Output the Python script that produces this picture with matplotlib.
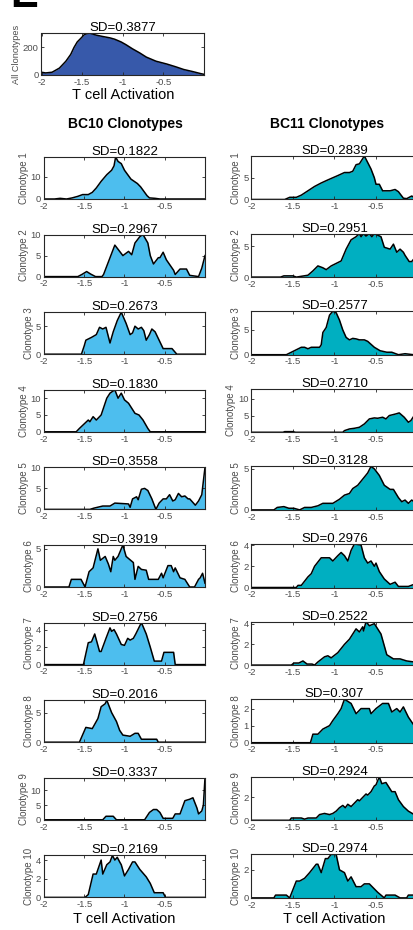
import matplotlib.pyplot as plt

plt.rcParams['font.family'] = ['Liberation Sans', 'DejaVu Sans']
plt.rcParams['axes.unicode_minus'] = False

W, H = 414, 930

# pooled distribution of all clonotypes
all_x = [-2, -1.95, -1.87, -1.78, -1.7, -1.64, -1.6, -1.56, -1.51, -1.47,
         -1.41, -1.33, -1.25, -1.16, -1.1, -1.02, -0.96, -0.88, -0.79, -0.71,
         -0.59, -0.46, -0.35, -0.25, -0.14, -0.04, 0]
all_y = [20, 15, 20, 50, 100, 150, 200, 240, 270, 295,
         305, 290, 280, 270, 260, 240, 220, 190, 160, 130,
         100, 80, 60, 40, 25, 10, 5]
all_sd = '0.3877'

bc10_sd = ['0.1822', '0.2967', '0.2673', '0.1830', '0.3558',
           '0.3919', '0.2756', '0.2016', '0.3337', '0.2169']
bc11_sd = ['0.2839', '0.2951', '0.2577', '0.2710', '0.3128',
           '0.2976', '0.2522', '0.307', '0.2924', '0.2974']

bc10_x = [
    [-2, -1.87, -1.8, -1.72, -1.65, -1.58, -1.52, -1.45, -1.40, -1.35, -1.29, -1.22, -1.16, -1.13, -1.11,
     -1.08, -1.04, -1.0, -0.96, -0.92, -0.88, -0.84, -0.8, -0.76, -0.72, -0.69, -0.62, -0.56, 0],
    [-2, -1.58, -1.53, -1.47, -1.42, -1.36, -1.28, -1.26, -1.12, -1.08, -1.02, -0.95, -0.91, -0.87, -0.81,
     -0.77, -0.71, -0.68, -0.64, -0.58, -0.56, -0.52, -0.48, -0.39, -0.37, -0.31, -0.23, -0.19, -0.08, -0.04, 0],
    [-2, -1.535, -1.5, -1.48, -1.41, -1.35, -1.31, -1.27, -1.23, -1.18, -1.14, -1.09, -1.04, -0.98, -0.93,
     -0.9, -0.87, -0.83, -0.79, -0.76, -0.73, -0.69, -0.66, -0.62, -0.57, -0.52, -0.41, -0.35, 0],
    [-2, -1.6, -1.56, -1.45, -1.43, -1.39, -1.35, -1.29, -1.22, -1.18, -1.12, -1.08, -1.04, -1.0, -0.95,
     -0.91, -0.87, -0.82, -0.77, -0.71, -0.68, 0],
    [-2, -1.43, -1.38, -1.27, -1.18, -1.12, -0.95, -0.93, -0.9, -0.85, -0.83, -0.79, -0.75, -0.71, -0.66,
     -0.61, -0.57, -0.52, -0.48, -0.44, -0.4, -0.37, -0.33, -0.29, -0.25, -0.21, -0.19, -0.12, -0.08, -0.04, 0],
    [-2, -1.69, -1.66, -1.54, -1.49, -1.44, -1.39, -1.33, -1.3, -1.24, -1.2, -1.17, -1.14, -1.12, -1.08,
     -1.06, -1.02, -0.98, -0.89, -0.87, -0.83, -0.79, -0.73, -0.7, -0.58, -0.54, -0.52, -0.46, -0.42, -0.39,
     -0.37, -0.31, -0.25, -0.19, -0.13, -0.08, -0.06, -0.03, 0],
    [-2, -1.51, -1.45, -1.41, -1.37, -1.31, -1.29, -1.23, -1.18, -1.16, -1.13, -1.1, -1.04, -1.0, -0.96,
     -0.93, -0.89, -0.86, -0.79, -0.73, -0.68, -0.63, -0.54, -0.51, -0.39, -0.37, 0],
    [-2, -1.56, -1.48, -1.4, -1.33, -1.29, -1.24, -1.22, -1.16, -1.12, -1.1, -1.06, -1.02, -0.93, -0.87,
     -0.83, -0.79, -0.6, -0.58, 0],
    [-2, -1.27, -1.23, -1.14, -1.1, -0.75, -0.69, -0.64, -0.6, -0.56, -0.52, -0.4, -0.37, -0.31, -0.25,
     -0.19, -0.15, -0.1, -0.08, -0.04, -0.02, 0],
    [-2, -1.49, -1.45, -1.39, -1.35, -1.31, -1.29, -1.27, -1.22, -1.18, -1.15, -1.12, -1.09, -1.06, -1.04,
     -1.0, -0.95, -0.9, -0.87, -0.81, -0.78, -0.73, -0.68, -0.63, -0.52, -0.49, 0],
]
bc10_y = [
    [0, 0, 0.3, 0, 0.5, 1.2, 2, 2, 3, 5, 8, 11, 13, 15, 19, 17, 16, 13, 11, 9, 8, 7, 5.5, 3.5, 1.5, 0.5, 0.3, 0, 0],
    [0, 0, 0.5, 1.2, 0.6, 0, 0, 0.5, 7.5, 6.5, 5, 6, 5.2, 8, 9.5, 10, 8, 5, 3, 4.5, 4.5, 5.8, 4, 1.5, 0.5,
     1.8, 1.8, 0.3, 0, 2, 5],
    [0, 0, 1.5, 2.5, 3, 3.5, 4.8, 4.5, 4.8, 2, 4, 6, 7.5, 5.5, 3.5, 3.8, 5, 4.5, 4.8, 4.2, 2.5, 3.5, 4.5, 4,
     2.5, 1, 1, 0, 0],
    [0, 0, 1, 3.5, 3, 4.5, 3.5, 5, 10, 11.5, 12.5, 10, 11.5, 9.5, 8.5, 7, 5.5, 5, 3.5, 1, 0, 0],
    [0, 0, 0.3, 0.8, 0.8, 1.5, 1.3, 0.5, 2.5, 3, 2.3, 4.8, 5, 4.5, 2.5, 0, 1.5, 2.5, 2.5, 3.5, 2, 2.3, 3.8,
     3, 3.2, 2.5, 2.5, 1, 2, 3.5, 10],
    [0, 0, 1, 1, 0, 2, 2.5, 5, 3.5, 4, 3, 2, 4, 3.5, 4, 4.5, 5.5, 4, 3.2, 1, 2.7, 2.3, 2.2, 1, 1, 1.8, 1.2,
     2.8, 2.8, 2, 2.5, 1.2, 1, 0, 0, 1, 1.2, 1.8, 0.5],
    [0, 0, 2.5, 2.6, 3.5, 1.5, 1.5, 3, 4.2, 3.8, 4, 3.5, 2.3, 2.2, 3, 2.8, 3, 3.5, 4.8, 3.5, 2, 0.4, 0.4,
     1.4, 1.4, 0, 0],
    [0, 0, 2.5, 2.3, 4, 6, 6.5, 7.1, 5, 4, 3.5, 2, 1.2, 1, 1.5, 1.5, 0.5, 0.5, 0, 0],
    [0, 0, 1.2, 1.2, 0, 0, 2.5, 3.5, 3.5, 2.5, 0.5, 0.5, 2, 2, 6.5, 7, 7.5, 4, 2, 3, 5, 14.3],
    [0, 0, 0.3, 2.5, 2.5, 3.5, 4, 2.5, 3.5, 3.8, 4.5, 4, 4.3, 3.8, 3.5, 2.3, 3, 3.8, 3.8, 3, 2.7, 2.2, 1.5,
     0.5, 0.5, 0, 0],
]
bc10_yticks = [[0, 10], [0, 5, 10], [0, 5], [0, 5, 10], [0, 5, 10],
               [0, 5], [0, 2, 4], [0, 5], [0, 5, 10], [0, 2, 4]]

bc11_x = [
    [-2, -1.6, -1.54, -1.46, -1.4, -1.32, -1.24, -1.16, -1.08, -1.02, -0.96, -0.88, -0.82, -0.78, -0.74,
     -0.7, -0.64, -0.6, -0.56, -0.52, -0.5, -0.46, -0.42, -0.33, -0.27, -0.23, -0.17, -0.13, -0.07, -0.04, 0],
    [-2, -1.65, -1.61, -1.5, -1.46, -1.32, -1.26, -1.2, -1.14, -1.1, -1.04, -0.98, -0.92, -0.86, -0.8,
     -0.74, -0.7, -0.68, -0.65, -0.62, -0.58, -0.55, -0.52, -0.44, -0.4, -0.33, -0.29, -0.25, -0.21, -0.17,
     -0.15, -0.1, -0.07, -0.04, 0],
    [-2, -1.58, -1.52, -1.46, -1.4, -1.36, -1.32, -1.28, -1.18, -1.16, -1.14, -1.1, -1.06, -1.02, -0.98,
     -0.94, -0.9, -0.86, -0.82, -0.78, -0.74, -0.7, -0.64, -0.6, -0.52, -0.45, -0.37, -0.31, -0.23, -0.15,
     -0.05, 0],
    [-2, -1.62, -1.6, -1.5, -1.47, -0.9, -0.88, -0.82, -0.76, -0.7, -0.64, -0.58, -0.52, -0.48, -0.42,
     -0.38, -0.34, -0.26, -0.22, -0.16, -0.11, -0.08, -0.04, -0.02, 0],
    [-2, -1.73, -1.69, -1.61, -1.55, -1.49, -1.42, -1.36, -1.28, -1.2, -1.14, -1.02, -0.94, -0.88, -0.82,
     -0.78, -0.72, -0.68, -0.64, -0.6, -0.56, -0.52, -0.46, -0.4, -0.33, -0.29, -0.23, -0.19, -0.15, -0.11,
     -0.07, -0.04, 0],
    [-2, -1.46, -1.44, -1.4, -1.32, -1.28, -1.24, -1.16, -1.06, -1.02, -0.96, -0.92, -0.88, -0.84, -0.8,
     -0.76, -0.68, -0.64, -0.6, -0.56, -0.52, -0.5, -0.46, -0.4, -0.33, -0.27, -0.23, -0.11, -0.04, 0],
    [-2, -1.52, -1.49, -1.43, -1.38, -1.33, -1.27, -1.24, -1.2, -1.12, -1.08, -1.04, -0.96, -0.88, -0.82,
     -0.74, -0.7, -0.66, -0.65, -0.62, -0.58, -0.52, -0.44, -0.37, -0.29, -0.21, -0.13, -0.04, 0],
    [-2, -1.29, -1.26, -1.2, -1.14, -1.06, -1.02, -0.96, -0.92, -0.88, -0.8, -0.74, -0.68, -0.58, -0.56,
     -0.5, -0.42, -0.35, -0.31, -0.25, -0.21, -0.17, -0.11, -0.04, 0],
    [-2, -1.54, -1.52, -1.4, -1.36, -1.32, -1.22, -1.18, -1.12, -1.06, -1.02, -0.98, -0.94, -0.9, -0.87,
     -0.84, -0.8, -0.76, -0.72, -0.7, -0.66, -0.62, -0.6, -0.56, -0.52, -0.5, -0.46, -0.43, -0.38, -0.31,
     -0.27, -0.23, -0.17, -0.11, -0.04, 0],
    [-2, -1.73, -1.71, -1.58, -1.54, -1.46, -1.42, -1.36, -1.3, -1.22, -1.2, -1.16, -1.11, -1.08, -1.04,
     -0.98, -0.94, -0.88, -0.84, -0.8, -0.74, -0.68, -0.64, -0.58, -0.48, -0.4, -0.38, -0.27, -0.21, -0.13,
     -0.11, -0.04, 0],
]
bc11_y = [
    [0, 0, 0.5, 0.5, 1, 2, 3, 3.8, 4.5, 5, 5.5, 6.2, 6.2, 6.5, 8, 8.2, 10, 8.5, 7, 5, 3.5, 3.5, 2, 2, 2.3,
     1.8, 0.3, 0.2, 0.8, 0.5, 0.3],
    [0, 0, 0.2, 0.2, 0, 0.3, 1, 1.8, 1.5, 1.2, 1.8, 2.2, 2.6, 4.5, 6, 6.5, 7, 6.5, 7, 6.6, 7, 6.5, 7, 6.5,
     4.8, 4.5, 5.3, 4, 4.5, 4, 3.5, 2.5, 2.5, 3, 3.5],
    [0, 0, 0.5, 1, 1.5, 1.5, 1.2, 1.5, 1.5, 2, 4.5, 5.5, 8, 8.8, 8.5, 7, 5, 3.5, 3, 3.3, 3.2, 3, 3, 2.7,
     1.5, 0.8, 0.5, 0.5, 0, 0.2, 0, 0],
    [0, 0, 0.2, 0.2, 0, 0, 0.5, 1, 1.2, 1.5, 2.5, 4, 4.3, 4.2, 4.5, 4, 5, 5.5, 5.8, 4.5, 3, 3.5, 5, 8, 13],
    [0, 0, 0.3, 0.4, 0.2, 0.2, 0, 0.3, 0.3, 0.5, 0.8, 0.8, 1.3, 1.8, 2, 2.6, 3, 3.5, 4, 4.5, 5.3, 5, 4.2,
     3, 2.5, 2.5, 1.5, 1, 1.2, 0.8, 1.2, 1, 0.8],
    [0, 0, 0.2, 0.2, 1, 1.3, 2, 2.8, 2.8, 2.5, 3, 3.3, 3, 2.5, 3.5, 4.1, 4, 2.8, 2.3, 2.5, 2, 2.3, 1.5,
     0.8, 0.3, 0.5, 0.1, 0.1, 0.3, 0.3],
    [0, 0, 0.2, 0.2, 0.4, 0.1, 0.1, 0, 0.3, 0.8, 0.9, 0.7, 1.2, 2, 2.5, 3.5, 3.2, 3.7, 3.3, 4.2, 3.8, 4,
     3, 1, 0.6, 0.6, 0.4, 0.3, 0.3],
    [0, 0, 0.5, 0.5, 0.8, 1, 1.3, 1.7, 2, 2.55, 2.3, 1.7, 2, 2, 1.7, 2, 2.3, 2.3, 1.8, 2, 1.8, 2.1, 1.5,
     1, 0.8],
    [0, 0, 0.2, 0.2, 0.1, 0.2, 0.2, 0.5, 0.6, 0.5, 0.6, 0.8, 1.1, 1.3, 1.1, 1.4, 1.2, 1.5, 1.8, 1.7, 2,
     2.3, 2.2, 2.5, 3, 3.1, 3.8, 3.2, 3.3, 2.5, 2.5, 1.8, 1.2, 0.8, 0.5, 0.4],
    [0, 0, 0.2, 0.2, 0, 1.2, 1.2, 1.4, 1.8, 2.4, 2.4, 1.8, 2.8, 2.8, 3.1, 3.1, 2, 1.8, 1.2, 1.5, 0.8, 0.8,
     1, 1, 0.4, 0, 0.2, 0.2, 0, 0, 0.2, 0.2, 0.2],
]
bc11_yticks = [[0, 5], [0, 5], [0, 5], [0, 5, 10], [0, 5],
               [0, 2, 4], [0, 2, 4], [0, 1, 2], [0, 2], [0, 2]]

xticks = [-2, -1.5, -1, -0.5]
xticklabels = ['-2', '-1.5', '-1', '-0.5']

c_all = '#3759AA'
c_bc10 = '#4DBEEE'
c_bc11 = '#00AFC1'
frame = '#262626'
grey = '#4d4d4d'


def add_ax(left, top, width, height):
    return fig.add_axes([left / W, 1 - (top + height) / H, width / W, height / H])


def draw(ax, x, y, color, sd, yticks, ylabel, ylabel_size=7):
    ax.fill_between(x, y, 0, color=color, lw=0)
    ax.plot(x, y, color='black', lw=1.1)
    ax.set_xlim(-2, 0)
    ax.set_ylim(0, max(y))
    ax.set_xticks(xticks)
    ax.set_xticklabels(xticklabels)
    ax.set_yticks(yticks)
    ax.tick_params(direction='in', length=2, width=0.6, color=frame, labelcolor=grey,
                   labelsize=6.8, pad=2, top=True, right=True)
    for s in ax.spines.values():
        s.set_color(frame)
        s.set_linewidth(0.8)
    ax.set_title('SD=' + sd, fontsize=9.5, pad=1.5)
    ax.set_ylabel(ylabel, fontsize=ylabel_size, color=grey, labelpad=1.5)


fig = plt.figure(figsize=(W / 100, H / 100), dpi=100)

ax = add_ax(41.5, 33, 162.5, 42)
draw(ax, all_x, all_y, c_all, all_sd, [0, 200], 'All Clonotypes', 6.6)
ax.set_xlabel('T cell Activation', fontsize=10.5, labelpad=1)

pitch = 77.6
for i in range(10):
    ax = add_ax(44, 157 + i * pitch, 161, 42)
    draw(ax, bc10_x[i], bc10_y[i], c_bc10, bc10_sd[i], bc10_yticks[i], 'Clonotype %d' % (i + 1))
    if i == 9:
        ax.set_xlabel('T cell Activation', fontsize=10.5, labelpad=2)

    ax = add_ax(251.5, 156 + i * pitch, 166, 43.5)
    draw(ax, bc11_x[i], bc11_y[i], c_bc11, bc11_sd[i], bc11_yticks[i], 'Clonotype %d' % (i + 1))
    if i == 9:
        ax.set_xlabel('T cell Activation', fontsize=10.5, labelpad=2)

fig.text(125 / W, 1 - 124 / H, 'BC10 Clonotypes', ha='center', va='center',
         fontsize=10, fontweight='bold')
fig.text(327 / W, 1 - 124 / H, 'BC11 Clonotypes', ha='center', va='center',
         fontsize=10, fontweight='bold')
fig.text(10 / W, 1 - 7 / H, 'E', fontsize=30, fontweight='bold', va='baseline')

fig.savefig('out.png', dpi=100)
